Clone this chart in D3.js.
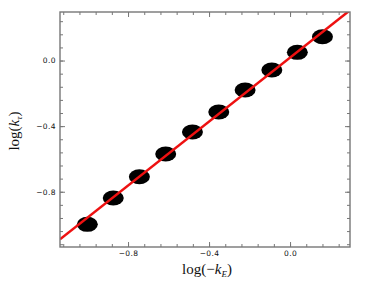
<!DOCTYPE html>
<html>
<head>
<meta charset="utf-8">
<script src="https://cdn.jsdelivr.net/npm/d3@7"></script>
<style>
body { margin: 0; background: #fff; }
.tick text { font-family: "DejaVu Sans", sans-serif; font-size: 7.5px; letter-spacing: 0.4px; fill: #111; }
.tick line { stroke: #777; stroke-width: 1; }
.axis-label { font-family: "Liberation Serif", serif; font-size: 15px; fill: #111; }
</style>
</head>
<body>
<div id="main"></div>
<script>
// data
var logKE = [-1.001, -0.873, -0.744, -0.614, -0.482, -0.352, -0.222, -0.090, 0.036, 0.160];
var logKT = [-0.999, -0.838, -0.709, -0.570, -0.436, -0.314, -0.180, -0.058, 0.050, 0.145];
var fitSlope = 0.975;
var fitIntercept = 0.018;
var xMajor = [-0.8, -0.4, 0.0];
var yMajor = [-0.8, -0.4, 0.0];
var xDomain = [-1.136, 0.296];
var yDomain = [-1.137, 0.296];

var width = 374, height = 291;
var padding = { top: 12, right: 24, bottom: 44, left: 60 };
var chartWidth = width - padding.left - padding.right;
var chartHeight = height - padding.top - padding.bottom;

var svg = d3.select("#main")
    .append("svg")
    .attr("width", width)
    .attr("height", height)
    .append("g")
    .attr("transform", "translate(" + padding.left + "," + padding.top + ")");

var xScale = d3.scaleLinear().domain(xDomain).range([0, chartWidth]);
var yScale = d3.scaleLinear().domain(yDomain).range([chartHeight, 0]);

// minor ticks every 0.08
function minorTicks(dom) {
    var out = [];
    for (var k = Math.ceil(dom[0] / 0.08); k * 0.08 <= dom[1]; k++) {
        out.push(+(k * 0.08).toFixed(2));
    }
    return out;
}
var xMinor = minorTicks(xDomain);
var yMinor = minorTicks(yDomain);

var fmt = function (d) { return d3.format(".1f")(d).replace("-", "\u2212"); };

// clip for data
svg.append("clipPath").attr("id", "clip")
    .append("rect").attr("width", chartWidth).attr("height", chartHeight);

var plot = svg.append("g").attr("clip-path", "url(#clip)");

// points
plot.selectAll(".pt")
    .data(logKE)
    .enter()
    .append("ellipse")
    .attr("class", "pt")
    .attr("cx", function (d) { return xScale(d); })
    .attr("cy", function (d, i) { return yScale(logKT[i]); })
    .attr("rx", 10.5)
    .attr("ry", 7.5)
    .style("fill", "#000");

// fit line
var line = d3.line()
    .x(function (d) { return xScale(d); })
    .y(function (d) { return yScale(fitSlope * d + fitIntercept); });
plot.append("path")
    .datum(xDomain)
    .attr("d", line)
    .style("fill", "none")
    .style("stroke", "#ee1111")
    .style("stroke-width", 2.5);

// axes: bottom / left with labels, top / right mirrored
function addAxis(axisFn, scale, values, size, transform, labels) {
    var a = axisFn(scale).tickValues(values).tickSize(-size).tickPadding(4)
        .tickFormat(labels ? fmt : "");
    var g = svg.append("g").attr("transform", transform).call(a);
    g.select(".domain").remove();
    return g;
}
addAxis(d3.axisBottom, xScale, xMinor, 3, "translate(0," + chartHeight + ")", false);
addAxis(d3.axisBottom, xScale, xMajor, 5, "translate(0," + chartHeight + ")", true);
addAxis(d3.axisTop, xScale, xMinor, 3, "translate(0,0)", false);
addAxis(d3.axisTop, xScale, xMajor, 5, "translate(0,0)", false);
addAxis(d3.axisLeft, yScale, yMinor, 3, "translate(0,0)", false);
addAxis(d3.axisLeft, yScale, yMajor, 5, "translate(0,0)", true);
addAxis(d3.axisRight, yScale, yMinor, 3, "translate(" + chartWidth + ",0)", false);
addAxis(d3.axisRight, yScale, yMajor, 5, "translate(" + chartWidth + ",0)", false);

// frame
svg.append("rect")
    .attr("width", chartWidth)
    .attr("height", chartHeight)
    .style("fill", "none")
    .style("stroke", "#777")
    .style("stroke-width", 1.4);

// x axis label
var xl = svg.append("text")
    .attr("class", "axis-label")
    .attr("text-anchor", "middle")
    .attr("transform", "translate(" + (chartWidth / 2 + 2) + "," + (chartHeight + 27) + ")");
xl.append("tspan").text("log(\u2212");
xl.append("tspan").style("font-style", "italic").text("k");
xl.append("tspan").style("font-style", "italic").style("font-size", "9px").attr("dy", 3).text("E");
xl.append("tspan").attr("dy", -3).text(")");

// y axis label
var yl = svg.append("text")
    .attr("class", "axis-label")
    .attr("text-anchor", "middle")
    .attr("transform", "translate(-41," + (yScale(-0.43)) + ") rotate(-90)");
yl.append("tspan").text("log(");
yl.append("tspan").style("font-style", "italic").text("k");
yl.append("tspan").style("font-style", "italic").style("font-size", "9px").attr("dy", 3).text("\u03c4");
yl.append("tspan").attr("dy", -3).text(")");
</script>
</body>
</html>
